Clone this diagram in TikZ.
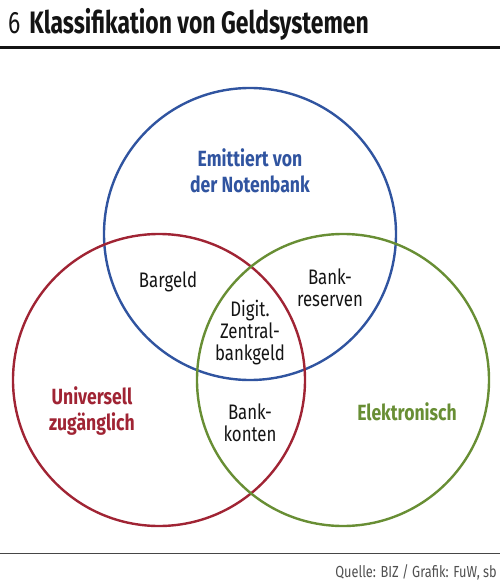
\documentclass[tikz,border=0pt]{standalone}
\usepackage{fontspec}
\setmainfont{Fira Sans}[FakeStretch=0.80]
\newfontfamily\titlefont{Fira Sans}[FakeStretch=0.74]
\usepackage{tikz}
\usetikzlibrary{positioning}
\definecolor{ink}{RGB}{20,20,20}
\definecolor{notenbank}{RGB}{48,84,160}
\definecolor{universell}{RGB}{160,36,52}
\definecolor{elektro}{RGB}{104,142,52}
\definecolor{rule}{RGB}{70,70,70}
\definecolor{quelle}{RGB}{80,80,80}
\tikzset{
  ring/.style={circle,draw=#1,line width=2.4pt,minimum size=292pt,inner sep=0pt},
  cat/.style={font=\fontsize{22}{26}\selectfont\bfseries,align=center,text=#1},
  item/.style={font=\fontsize{21}{22}\selectfont,align=center,text=ink},
}

\begin{document}
\begin{tikzpicture}[x=1pt,y=-1pt]
  \useasboundingbox (0,0) rectangle (500,586);
  % title and rules
  \node[anchor=base west,inner sep=0pt,font=\titlefont\fontsize{31}{34}\selectfont,text=ink] (title)
    at (8,34) {6\hspace{9pt}\textbf{Klassifikation von Geldsystemen}};
  \coordinate (tl) at (0,47.5);
  \coordinate (tr) at (500,47.5);
  \draw[line width=3pt,ink] (tl) -- (tr);
  \coordinate (fl) at (0,553);
  \coordinate (fr) at (500,553);
  \draw[line width=0.9pt,rule] (fl) -- (fr);
  \node[anchor=base east,inner sep=0pt,font=\fontsize{16}{18}\selectfont,text=quelle] (src)
    at (497,577) {Quelle: BIZ / Grafik: FuW, sb};
  % circles
  \node[ring=notenbank] (emit) at (250,234) {};
  \node[ring=universell] (univ) at (159,380) {};
  \node[ring=elektro] (elek) at (343,380) {};
  % categories
  \node[cat=notenbank] (emitlbl) at (250,171) {Emittiert von\\der Notenbank};
  \node[cat=universell] (univlbl) at (92,411) {Universell\\zugänglich};
  \node[cat=elektro] (eleklbl) at (407,412) {Elektronisch};
  % intersections
  \node[item] (bargeld) at (168,282) {Bargeld};
  \node[item] (reserven) at (330,288) {Bank-\\reserven};
  \node[item] (digit) at (250,333) {Digit.\\Zentral-\\bankgeld};
  \node[item] (konten) at (250,423) {Bank-\\konten};
\end{tikzpicture}
\end{document}
